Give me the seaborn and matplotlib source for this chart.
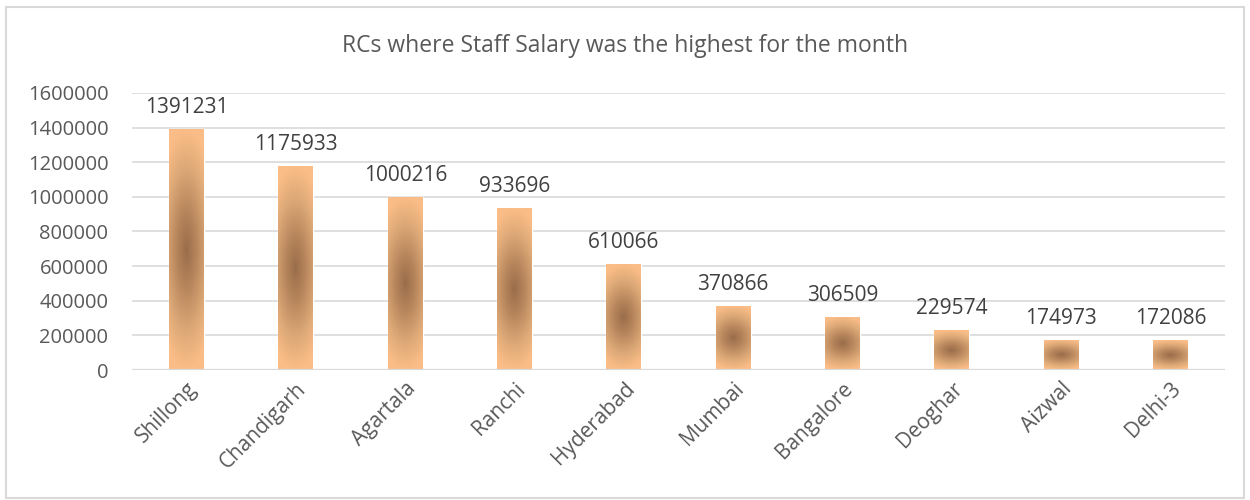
import numpy as np
import pandas as pd
import seaborn as sns
import matplotlib.pyplot as plt
from matplotlib.colors import LinearSegmentedColormap
from matplotlib.patches import Rectangle

centres = ['Shillong', 'Chandigarh', 'Agartala', 'Ranchi', 'Hyderabad',
           'Mumbai', 'Bangalore', 'Deoghar', 'Aizwal', 'Delhi-3']
salary = [1391231, 1175933, 1000216, 933696, 610066,
          370866, 306509, 229574, 174973, 172086]

sns.set_theme(style='white')
plt.rcParams['font.family'] = ['Open Sans', 'DejaVu Sans']

df = pd.DataFrame({'rc': centres, 'salary': salary})

fig = plt.figure(figsize=(12.5, 5), dpi=100)
ax = fig.add_axes([0.1056, 0.26, 0.8744, 0.554])

sns.barplot(data=df, x='rc', y='salary', color='#fabc86', width=0.32,
            saturation=1, ax=ax, zorder=3)

# path gradient on each bar: dark brown centre fading to light orange
cmap = LinearSegmentedColormap.from_list(
    'bar', [(0, '#9a6d4a'), (0.3, '#b5845b'), (0.7, '#deaa78'), (1, '#fbbd87')])
yy, xx = np.mgrid[-1:1:200j, -1:1:60j]
r = np.clip(np.sqrt((0.55 * xx) ** 2 + yy ** 2), 0, 1)
for p in ax.patches:
    x0, y0 = p.get_x(), p.get_y()
    w, h = p.get_width(), p.get_height()
    im = ax.imshow(r, cmap=cmap, vmin=0, vmax=1, aspect='auto',
                   extent=[x0, x0 + w, y0, y0 + h], origin='lower', zorder=4)
    im.set_clip_path(p)
    ax.annotate(f'{int(h)}', (x0 + w / 2, h), xytext=(0, 8),
                textcoords='offset points', ha='center', va='bottom',
                fontsize=15, color='#404040')

ax.set_xlim(-0.5, len(centres) - 0.5)
ax.set_ylim(0, 1600000)
ax.set_yticks(range(0, 1600001, 200000))
ax.set_yticklabels([str(v) for v in range(0, 1600001, 200000)])
ax.yaxis.grid(True, color='#d9d9d9', linewidth=1.2, zorder=0)
ax.set_axisbelow(True)
for s in ax.spines.values():
    s.set_visible(False)
ax.axhline(0, color='#d9d9d9', linewidth=1.6, zorder=5)
ax.tick_params(axis='y', labelsize=14.5, labelcolor='#595959', pad=17, length=0)
ax.tick_params(axis='x', labelsize=15, labelcolor='#595959', length=0, pad=6)
plt.setp(ax.get_xticklabels(), rotation=45, ha='right', rotation_mode='anchor')
ax.set_xlabel('')
ax.set_ylabel('')

fig.text(0.5, 0.907, 'RCs where Staff Salary was the highest for the month',
         ha='center', va='center', fontsize=16.5, color='#595959')

# outer chart border
fig.add_artist(Rectangle((0.005, 0.004), 0.99, 0.982, transform=fig.transFigure,
                         fill=False, edgecolor='#d9d9d9', linewidth=1.5))

fig.savefig('out.png', dpi=100)
